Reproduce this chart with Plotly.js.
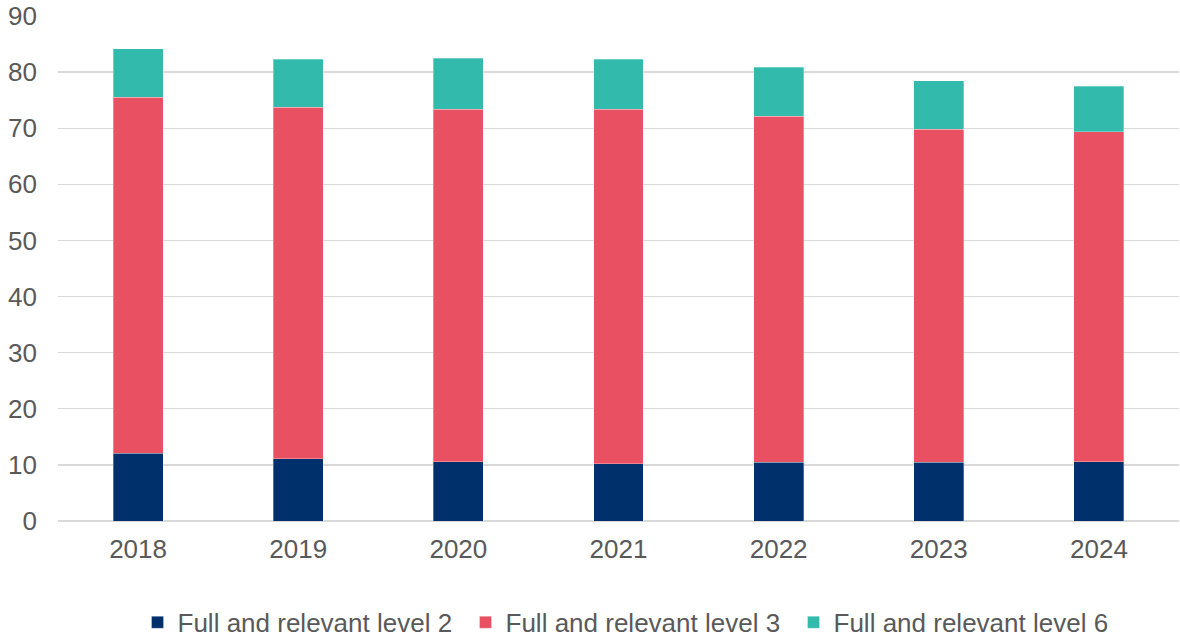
<!DOCTYPE html>
<html>
<head>
<meta charset="utf-8">
<script src="https://cdn.plot.ly/plotly-3.0.1.min.js"></script>
<style>
  html, body { margin: 0; padding: 0; background: #ffffff; }
  #chart { width: 1180px; height: 639px; }
</style>
</head>
<body>
<div id="chart"></div>
<script>
// Qualification levels by year
const years = ['2018', '2019', '2020', '2021', '2022', '2023', '2024'];
const level2 = [12.1, 11.1, 10.6, 10.2, 10.5, 10.5, 10.6];
const level3 = [63.4, 62.6, 62.8, 63.2, 61.6, 59.3, 58.8];
const level6 = [8.7, 8.6, 9.1, 8.9, 8.8, 8.7, 8.1];

const seriesNames = ['Full and relevant level 2', 'Full and relevant level 3', 'Full and relevant level 6'];
const seriesColors = ['#00306b', '#e95062', '#32bbad'];
const seriesValues = [level2, level3, level6];

const textColor = '#595959';
const fontFamily = 'Liberation Sans, Arial, sans-serif';

const traces = seriesValues.map((vals, i) => ({
  type: 'bar',
  name: seriesNames[i],
  x: years,
  y: vals,
  marker: { color: seriesColors[i], line: { color: 'rgba(255,255,255,0.5)', width: 0.6 } },
  hoverinfo: 'x+y+name'
}));

const layout = {
  width: 1180,
  height: 639,
  barmode: 'stack',
  bargap: 0.688,
  paper_bgcolor: '#ffffff',
  plot_bgcolor: '#ffffff',
  margin: { l: 58, r: 1, t: 16, b: 117.5 },
  font: { family: fontFamily, size: 26, color: textColor },
  xaxis: {
    type: 'category',
    showgrid: false,
    showline: false,
    zeroline: false,
    ticks: '',
    ticklabelstandoff: 10,
    tickfont: { family: fontFamily, size: 26, color: textColor }
  },
  yaxis: {
    range: [0, 90],
    dtick: 10,
    showgrid: true,
    gridcolor: '#d9d9d9',
    gridwidth: 1.3,
    zeroline: true,
    zerolinecolor: '#d9d9d9',
    zerolinewidth: 1.3,
    showline: false,
    ticks: '',
    ticklabelstandoff: 20,
    tickfont: { family: fontFamily, size: 26, color: textColor }
  },
  legend: {
    orientation: 'h',
    xref: 'container',
    yref: 'container',
    x: 0.5335,
    xanchor: 'center',
    y: 0.026,
    yanchor: 'middle',
    traceorder: 'normal',
    entrywidth: 283,
    itemwidth: 30,
    font: { family: fontFamily, size: 26, color: textColor }
  },
  showlegend: true
};

Plotly.newPlot('chart', traces, layout, { displayModeBar: false, staticPlot: true });
</script>
</body>
</html>
